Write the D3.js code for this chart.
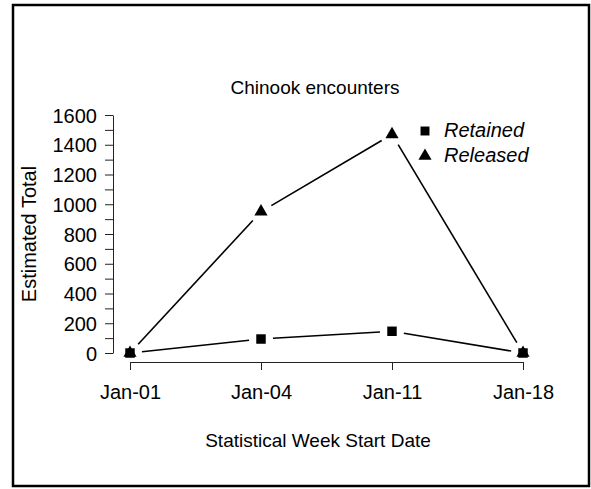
<!DOCTYPE html>
<html>
<head>
<meta charset="utf-8">
<script src="https://cdn.jsdelivr.net/npm/d3@7"></script>
<style>
  body { margin: 0; background: #fff; }
  text { font-family: "Liberation Sans", Arial, sans-serif; }
</style>
</head>
<body>
<svg width="591" height="489"></svg>
<script>
"use strict";

// week start dates (x categories)
const weeks = ["Jan-01", "Jan-04", "Jan-11", "Jan-18"];
// estimated totals
const retained = [0, 94, 146, 0];
const released = [0, 950, 1470, 0];
const yTicks = d3.range(0, 1601, 100);

const svg = d3.select("svg");

// outer frame
svg.append("rect")
  .attr("x", 13).attr("y", 5)
  .attr("width", 576).attr("height", 481)
  .attr("fill", "none")
  .attr("stroke", "#000")
  .attr("stroke-width", 2.5);

const x = d3.scalePoint().domain(weeks).range([130, 523]);
const y = d3.scaleLinear().domain([0, 1600]).range([353, 115]);

/////////////////////////////////
// axes
/////////////////////////////////
const yAxis = d3.axisLeft(y)
  .tickValues(yTicks)
  .tickFormat((d) => (d % 200 === 0 ? d : ""))
  .tickSize(8)
  .tickSizeOuter(0)
  .tickPadding(8);

const gy = svg.append("g")
  .attr("transform", "translate(113,0)")
  .call(yAxis);

const xAxis = d3.axisBottom(x)
  .tickSize(8)
  .tickSizeOuter(0)
  .tickPadding(15);

const gx = svg.append("g")
  .attr("transform", "translate(0,362)")
  .call(xAxis);

[gx, gy].forEach((g) => {
  g.attr("font-size", null).attr("font-family", null);
  g.selectAll("path, line").attr("stroke", "#222");
  g.selectAll("text")
    .attr("fill", "#000")
    .style("font-size", "20px");
});
gy.selectAll("text").attr("dy", "0.36em");

/////////////////////////////////
// titles
/////////////////////////////////
svg.append("text")
  .attr("x", 315).attr("y", 94)
  .attr("text-anchor", "middle")
  .style("font-size", "19px")
  .text("Chinook encounters");

svg.append("text")
  .attr("x", 318).attr("y", 447)
  .attr("text-anchor", "middle")
  .style("font-size", "19px")
  .text("Statistical Week Start Date");

svg.append("text")
  .attr("transform", "translate(36,234) rotate(-90)")
  .attr("text-anchor", "middle")
  .style("font-size", "20px")
  .text("Estimated Total");

/////////////////////////////////
// lines with gaps at points (like R type="b")
/////////////////////////////////
const gap = 12;
function drawSeries(vals, shape) {
  const pts = vals.map((v, i) => [x(weeks[i]), y(v)]);
  const segs = d3.pairs(pts);
  svg.append("g")
    .selectAll("line")
    .data(segs)
    .enter()
    .append("line")
    .each(function ([a, b]) {
      const dx = b[0] - a[0], dy = b[1] - a[1];
      const len = Math.hypot(dx, dy);
      const ux = dx / len, uy = dy / len;
      d3.select(this)
        .attr("x1", a[0] + ux * gap).attr("y1", a[1] + uy * gap)
        .attr("x2", b[0] - ux * gap).attr("y2", b[1] - uy * gap);
    })
    .attr("stroke", "#000")
    .attr("stroke-width", 1.6);

  svg.append("g")
    .selectAll("path")
    .data(pts)
    .enter()
    .append("path")
    .attr("transform", (d) => `translate(${d[0]},${d[1]})`)
    .attr("d", d3.symbol().type(shape).size(shape === d3.symbolSquare ? 90 : 75))
    .attr("fill", "#000");
}

drawSeries(retained, d3.symbolSquare);
drawSeries(released, d3.symbolTriangle);

/////////////////////////////////
// legend
/////////////////////////////////
const legendItems = [
  { name: "Retained", shape: d3.symbolSquare },
  { name: "Released", shape: d3.symbolTriangle }
];
const legend = svg.append("g").attr("transform", "translate(425,131)");
legendItems.forEach((it, i) => {
  legend.append("path")
    .attr("transform", `translate(0,${i * 25})`)
    .attr("d", d3.symbol().type(it.shape).size(it.shape === d3.symbolSquare ? 80 : 75))
    .attr("fill", "#000");
  legend.append("text")
    .attr("x", 19).attr("y", i * 25 + 6)
    .style("font-size", "20px")
    .style("font-style", "italic")
    .text(it.name);
});
</script>
</body>
</html>
